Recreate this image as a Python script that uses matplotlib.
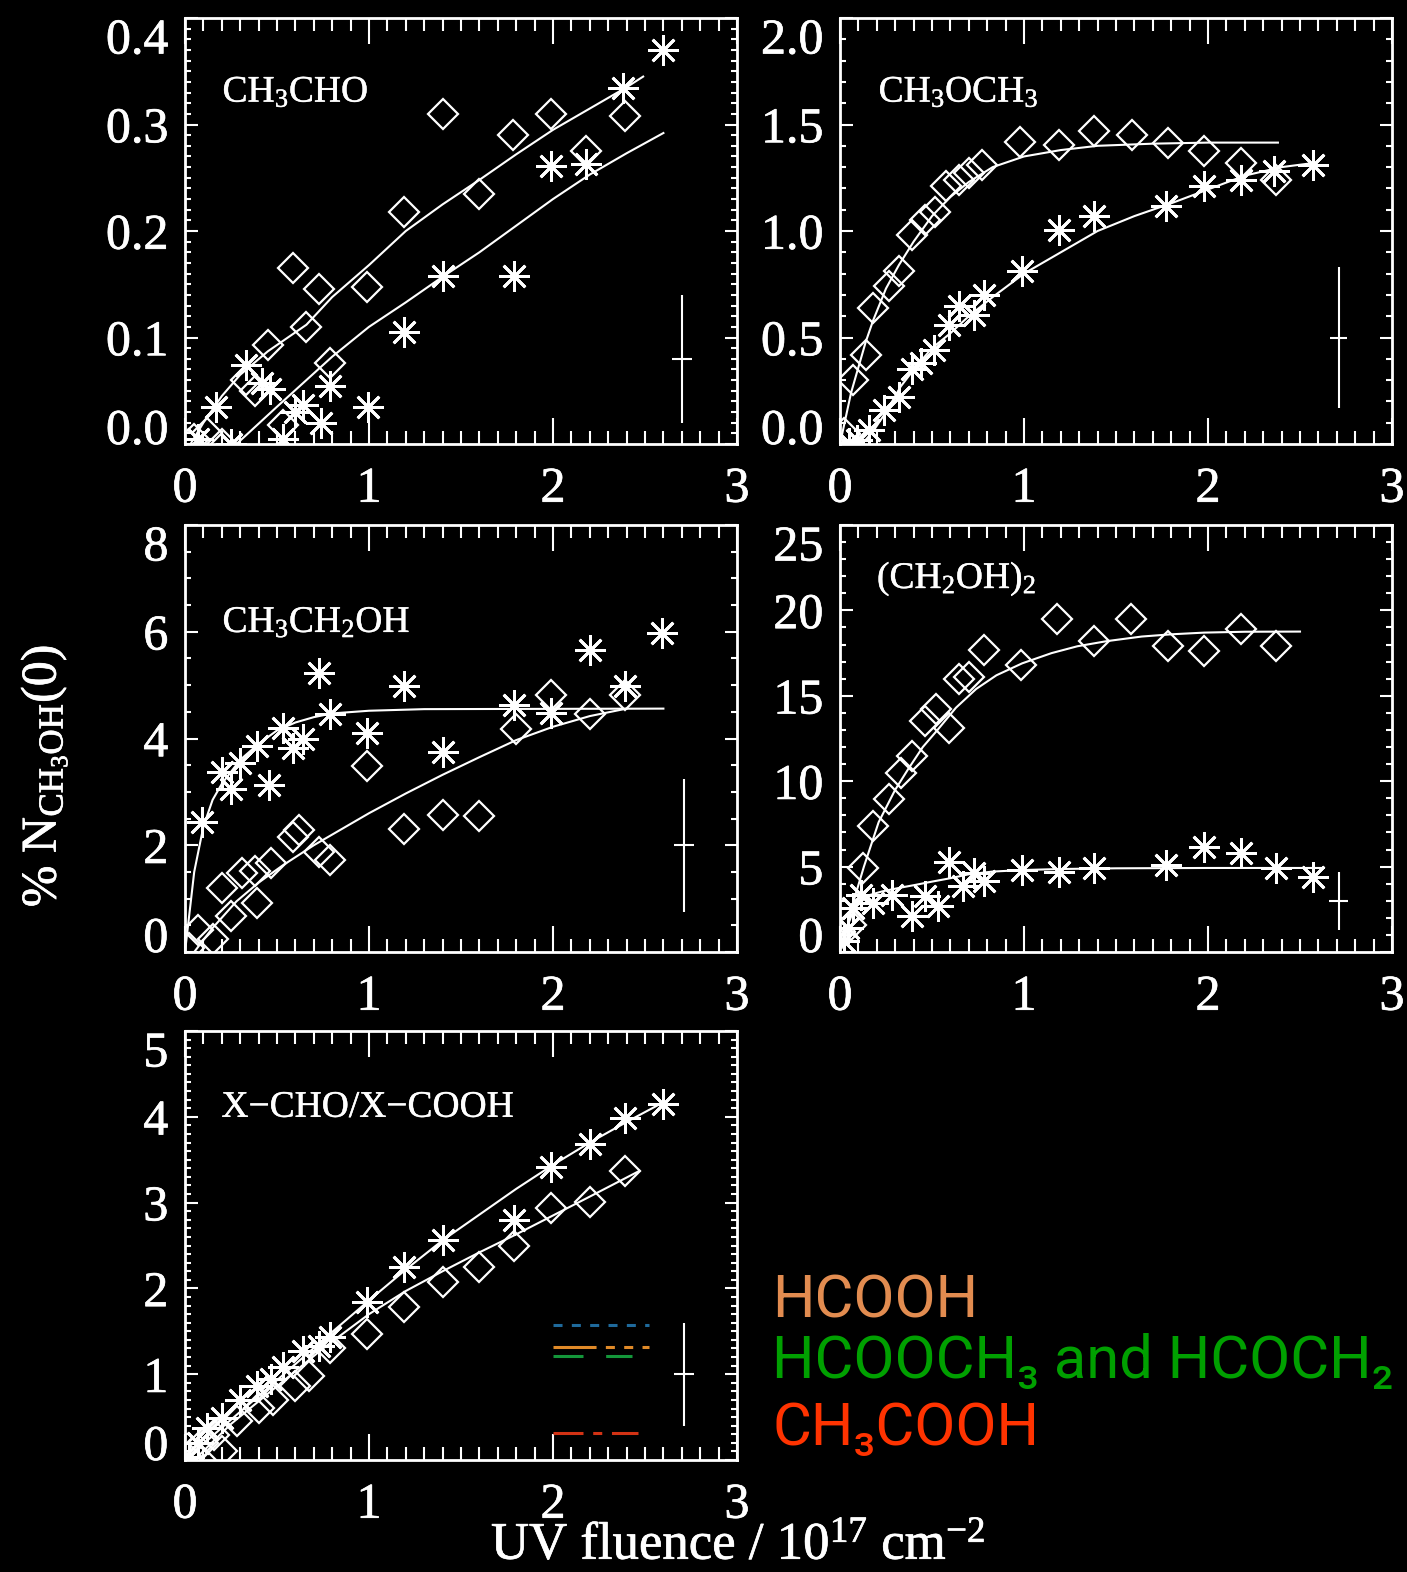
#!/usr/bin/env python3
"""Product growth vs UV fluence, five panels in IDL style on black."""

import matplotlib

matplotlib.use("Agg")
import matplotlib.patheffects as pe
import matplotlib.pyplot as plt
from matplotlib.ticker import FormatStrFormatter, MultipleLocator

# ---- CH3CHO (top left) ----
CHO_DIA_X = [1.40, 1.78, 1.99, 2.39, 2.18, 1.60, 1.19, 0.585, 0.727, 0.99, 0.66,
             0.45, 0.79, 0.33, 0.38, 0.53, 0.12, 0.05, 0.20]
CHO_DIA_Y = [0.31, 0.29, 0.31, 0.308, 0.275, 0.235, 0.218, 0.165, 0.146, 0.147,
             0.11, 0.093, 0.076, 0.06, 0.05, 0.018, 0.01, 0.005, 0.0]
CHO_AST_X = [2.60, 2.38, 1.99, 2.18, 1.40, 1.79, 1.19, 0.997, 0.33, 0.42, 0.46,
             0.17, 0.64, 0.60, 0.79, 0.74, 0.53, 0.07, 0.25]
CHO_AST_Y = [0.37, 0.334, 0.261, 0.263, 0.158, 0.158, 0.105, 0.035, 0.074, 0.057,
             0.052, 0.035, 0.037, 0.03, 0.054, 0.02, 0.005, 0.005, 0.0]
CHO_FIT1_X = [0.03, 0.1, 0.2, 0.3, 0.45, 0.66, 0.8, 1.0, 1.2, 1.4, 1.6, 1.8, 2.0,
              2.2, 2.4, 2.49]
CHO_FIT1_Y = [0.0, 0.02, 0.045, 0.065, 0.087, 0.112, 0.138, 0.168, 0.2, 0.225,
              0.248, 0.272, 0.295, 0.315, 0.335, 0.345]
CHO_FIT2_X = [0.28, 0.5, 0.8, 1.0, 1.2, 1.4, 1.6, 1.8, 2.0, 2.2, 2.4, 2.6]
CHO_FIT2_Y = [0.0, 0.035, 0.082, 0.11, 0.133, 0.157, 0.18, 0.205, 0.23, 0.253,
              0.273, 0.292]

# ---- CH3OCH3 (top right) ----
DME_DIA_X = [0.98, 1.19, 1.38, 1.585, 1.78, 1.977, 2.18, 2.37, 0.77, 0.70, 0.645,
             0.576, 0.518, 0.46, 0.39, 0.32, 0.265, 0.18, 0.14, 0.07, 0.02]
DME_DIA_Y = [1.416, 1.405, 1.468, 1.452, 1.413, 1.374, 1.319, 1.241, 1.311, 1.27,
             1.24, 1.21, 1.09, 1.05, 0.98, 0.81, 0.74, 0.64, 0.42, 0.30, 0.05]
DME_AST_X = [2.57, 2.36, 2.18, 1.977, 1.77, 1.38, 1.19, 0.99, 0.78, 0.73, 0.645,
             0.59, 0.51, 0.44, 0.39, 0.32, 0.24, 0.16, 0.09, 0.05]
DME_AST_Y = [1.31, 1.28, 1.24, 1.21, 1.116, 1.069, 1.006, 0.81, 0.70, 0.607, 0.646,
             0.56, 0.443, 0.38, 0.35, 0.22, 0.16, 0.067, 0.02, 0.005]
DME_FIT1_X = [0.0, 0.03, 0.06, 0.1, 0.14, 0.18, 0.25, 0.32, 0.4, 0.5, 0.6, 0.7,
              0.83, 1.0, 1.2, 1.4, 1.7, 2.0, 2.38]
DME_FIT1_Y = [0.0, 0.12, 0.24, 0.36, 0.48, 0.58, 0.73, 0.84, 0.95, 1.07, 1.16,
              1.23, 1.30, 1.35, 1.38, 1.40, 1.41, 1.415, 1.415]
DME_FIT2_X = [0.12, 0.18, 0.25, 0.33, 0.41, 0.5, 0.6, 0.7, 0.83, 1.0, 1.2, 1.4,
              1.6, 1.8, 2.0, 2.2, 2.4, 2.58]
DME_FIT2_Y = [0.0, 0.06, 0.15, 0.27, 0.36, 0.45, 0.52, 0.60, 0.69, 0.80, 0.90,
              1.00, 1.07, 1.13, 1.195, 1.26, 1.30, 1.32]

# ---- CH3CH2OH (middle left) ----
ETH_AST_X = [2.59, 2.20, 2.39, 1.79, 1.99, 1.19, 0.73, 0.79, 0.99, 1.40, 0.53,
             0.64, 0.585, 0.39, 0.30, 0.20, 0.25, 0.456, 0.095]
ETH_AST_Y = [5.98, 5.66, 4.99, 4.62, 4.48, 4.98, 5.23, 4.45, 4.10, 3.75, 4.20,
             3.99, 3.83, 3.86, 3.55, 3.37, 3.06, 3.12, 2.44]
ETH_DIA_X = [1.99, 2.39, 2.20, 1.80, 0.99, 1.19, 1.40, 1.60, 0.62, 0.585, 0.73,
             0.79, 0.47, 0.38, 0.31, 0.20, 0.39, 0.25, 0.07, 0.15, 0.02]
ETH_DIA_Y = [4.82, 4.82, 4.45, 4.17, 3.49, 2.30, 2.56, 2.55, 2.28, 2.16, 1.88,
             1.72, 1.66, 1.51, 1.48, 1.20, 0.92, 0.67, 0.42, 0.24, 0.08]
ETH_FIT1_X = [0.0, 0.02, 0.05, 0.1, 0.15, 0.2, 0.3, 0.4, 0.5, 0.6, 0.7, 0.8, 1.0,
              1.3, 2.6]
ETH_FIT1_Y = [0.0, 0.6, 1.5, 2.35, 2.85, 3.15, 3.6, 3.9, 4.15, 4.3, 4.4, 4.47,
              4.52, 4.55, 4.56]
ETH_FIT2_X = [0.05, 0.15, 0.28, 0.4, 0.53, 0.7, 0.85, 1.0, 1.2, 1.4, 1.6, 1.8,
              2.0, 2.2, 2.4]
ETH_FIT2_Y = [0.0, 0.45, 0.95, 1.3, 1.62, 2.0, 2.3, 2.6, 2.97, 3.32, 3.65, 3.97,
              4.22, 4.42, 4.56]

# ---- (CH2OH)2 (middle right) ----
GLY_DIA_X = [1.18, 1.58, 2.18, 1.38, 1.78, 1.98, 2.37, 0.986, 0.78, 0.70, 0.645,
             0.59, 0.52, 0.46, 0.39, 0.33, 0.265, 0.18, 0.127, 0.06]
GLY_DIA_Y = [19.5, 19.5, 18.9, 18.2, 17.9, 17.6, 17.9, 16.8, 17.7, 16.1, 16.0,
             13.1, 14.2, 13.5, 11.5, 10.5, 8.97, 7.4, 4.9, 1.6]
GLY_AST_X = [1.98, 2.18, 1.77, 2.37, 2.57, 1.38, 1.19, 0.99, 0.78, 0.73, 0.59,
             0.67, 0.46, 0.53, 0.39, 0.28, 0.18, 0.115, 0.07, 0.046, 0.02]
GLY_AST_Y = [6.16, 5.78, 5.10, 4.90, 4.42, 4.90, 4.71, 4.81, 4.13, 4.61, 5.29,
             3.84, 3.26, 2.67, 2.09, 3.35, 2.87, 3.35, 2.58, 1.41, 0.64]
GLY_FIT1_X = [0.03, 0.08, 0.13, 0.21, 0.3, 0.37, 0.45, 0.53, 0.63, 0.74, 0.85,
              0.99, 1.15, 1.29, 1.45, 1.64, 1.8, 1.98, 2.2, 2.5]
GLY_FIT1_Y = [1.0, 3.2, 5.0, 7.6, 9.5, 10.7, 12.0, 13.0, 14.3, 15.4, 16.2, 16.9,
              17.5, 17.9, 18.2, 18.47, 18.6, 18.7, 18.75, 18.76]
GLY_FIT2_X = [0.01, 0.04, 0.09, 0.15, 0.23, 0.32, 0.41, 0.5, 0.6, 0.7, 0.83, 1.0,
              1.2, 1.5, 2.0, 2.63]
GLY_FIT2_Y = [0.25, 1.5, 2.9, 3.3, 3.55, 3.75, 3.93, 4.12, 4.32, 4.55, 4.71, 4.8,
              4.86, 4.9, 4.92, 4.92]

# ---- X-CHO / X-COOH (bottom left) ----
ACD_AST_X = [2.60, 2.39, 2.20, 1.99, 1.79, 1.40, 1.19, 0.99, 0.79, 0.73, 0.64,
             0.53, 0.47, 0.39, 0.30, 0.20, 0.12, 0.07, 0.02]
ACD_AST_Y = [4.15, 3.99, 3.68, 3.42, 2.80, 2.56, 2.25, 1.84, 1.43, 1.33, 1.27,
             1.08, 0.94, 0.86, 0.70, 0.49, 0.37, 0.20, 0.04]
ACD_DIA_X = [2.39, 2.20, 1.99, 1.79, 1.60, 1.40, 1.19, 0.99, 0.79, 0.675, 0.60,
             0.48, 0.40, 0.28, 0.16, 0.10, 0.04, 0.20]
ACD_DIA_Y = [3.37, 3.01, 2.94, 2.49, 2.25, 2.07, 1.78, 1.47, 1.31, 0.98, 0.86,
             0.70, 0.61, 0.45, 0.29, 0.20, 0.08, 0.10]
ACD_FIT1_X = [0.0, 0.25, 0.5, 0.75, 1.0, 1.2, 1.4, 1.6, 1.8, 2.0, 2.2, 2.4, 2.6]
ACD_FIT1_Y = [0.0, 0.47, 0.93, 1.4, 1.86, 2.22, 2.56, 2.86, 3.16, 3.44, 3.7, 3.94,
              4.17]
ACD_FIT2_X = [0.05, 0.25, 0.5, 0.75, 1.0, 1.2, 1.4, 1.6, 1.8, 2.0, 2.2, 2.47]
ACD_FIT2_Y = [0.0, 0.42, 0.86, 1.3, 1.7, 1.97, 2.2, 2.42, 2.63, 2.85, 3.07, 3.37]

# coloured line samples in the bottom-left panel
SAMPLE_X = [[2.0, 2.52], [2.0, 2.52], [2.0, 2.43], [2.0, 2.46]]
SAMPLE_Y = [1.57, 1.32, 1.21, 0.31]
SAMPLE_COLORS = ["#1f6a9c", "#e08a28", "#14963a", "#d23214"]
SAMPLE_DASHES = [(6.5, 6.7), (31, 6.7, 6.5, 6.7, 6.5, 6.7, 6.5, 6.7),
                 (21.6, 16.3), (21.6, 7, 6.5, 7)]

# typical error cross per panel
ERR_X = [2.70, 2.71, 2.71, 2.71, 2.71]
ERR_Y = [0.08, 0.50, 2.0, 3.0, 1.0]
ERR_DX = [0.055, 0.045, 0.055, 0.05, 0.055]
ERR_DY = [0.06, 0.33, 1.25, 1.7, 0.6]

LABELS = [r"CH$_\mathrm{3}$CHO", r"CH$_\mathrm{3}$OCH$_\mathrm{3}$",
          r"CH$_\mathrm{3}$CH$_\mathrm{2}$OH", r"(CH$_\mathrm{2}$OH)$_\mathrm{2}$",
          "X\u2212CHO/X\u2212COOH"]
LABEL_POS = [(0.068, 0.803), (0.070, 0.803), (0.068, 0.749), (0.067, 0.852),
             (0.066, 0.80)]

LEGEND_TEXT = ["HCOOH", "HCOOCH\u2083 and HCOCH\u2082", "CH\u2083COOH"]
LEGEND_COLORS = ["#e28c50", "#00a000", "#ff3300"]
LEGEND_BASE = [1317, 1378, 1445]

plt.rcParams.update({
    "font.family": ["Liberation Serif", "DejaVu Serif"],
    "font.weight": "normal",
    "mathtext.fontset": "custom",
    "mathtext.rm": "Liberation Serif",
    "mathtext.it": "Liberation Serif:italic",
    "mathtext.bf": "Liberation Serif:bold",
    "lines.scale_dashes": False,
    "axes.linewidth": 2.0,
})

# IDL vector fonts look a bit heavier than Times regular
THICK = [pe.withStroke(linewidth=0.5, foreground="white")]
THIN = [pe.withStroke(linewidth=0.3, foreground="white")]

W, H = 1407, 1572
fig = plt.figure(figsize=(W / 100, H / 100), dpi=100, facecolor="black")


def rect(x0, x1, y0, y1):
    """Pixel box (left, right, top, bottom) -> figure fraction rect."""
    return [x0 / W, 1 - y1 / H, (x1 - x0) / W, (y1 - y0) / H]


panels = [
    dict(rect=rect(185, 737, 18, 444), ylim=0.4, major=0.1, minor=0.01, fmt="%.1f",
         dia=(CHO_DIA_X, CHO_DIA_Y), ast=(CHO_AST_X, CHO_AST_Y),
         fits=[(CHO_FIT1_X, CHO_FIT1_Y), (CHO_FIT2_X, CHO_FIT2_Y)]),
    dict(rect=rect(840, 1392, 18, 444), ylim=2.0, major=0.5, minor=0.1, fmt="%.1f",
         dia=(DME_DIA_X, DME_DIA_Y), ast=(DME_AST_X, DME_AST_Y),
         fits=[(DME_FIT1_X, DME_FIT1_Y), (DME_FIT2_X, DME_FIT2_Y)]),
    dict(rect=rect(185, 737, 525, 952), ylim=8, major=2, minor=0.5, fmt="%d",
         dia=(ETH_DIA_X, ETH_DIA_Y), ast=(ETH_AST_X, ETH_AST_Y),
         fits=[(ETH_FIT1_X, ETH_FIT1_Y), (ETH_FIT2_X, ETH_FIT2_Y)]),
    dict(rect=rect(840, 1392, 525, 952), ylim=25, major=5, minor=1, fmt="%d",
         dia=(GLY_DIA_X, GLY_DIA_Y), ast=(GLY_AST_X, GLY_AST_Y),
         fits=[(GLY_FIT1_X, GLY_FIT1_Y), (GLY_FIT2_X, GLY_FIT2_Y)]),
    dict(rect=rect(185, 737, 1031, 1460), ylim=5, major=1, minor=0.1, fmt="%d",
         dia=(ACD_DIA_X, ACD_DIA_Y), ast=(ACD_AST_X, ACD_AST_Y),
         fits=[(ACD_FIT1_X, ACD_FIT1_Y), (ACD_FIT2_X, ACD_FIT2_Y)]),
]

axes = []
for i, p in enumerate(panels):
    ax = fig.add_axes(p["rect"], facecolor="black")
    axes.append(ax)
    for sp in ax.spines.values():
        sp.set_color("white")
    ax.set_xlim(0, 3)
    ax.set_ylim(0, p["ylim"])

    for fx, fy in p["fits"]:
        ax.plot(fx, fy, color="white", lw=1.5)
    ax.plot(*p["dia"], ls="none", marker="D", ms=15, mfc="none", mec="white",
            mew=1.6)
    ax.plot(*p["ast"], ls="none", marker=(8, 2, 0), ms=22, mec="white", mew=2.0)
    ax.errorbar([ERR_X[i]], [ERR_Y[i]], xerr=[ERR_DX[i]], yerr=[ERR_DY[i]],
                fmt="none", ecolor="white", elinewidth=1.5, capsize=0)

    ax.text(*LABEL_POS[i], LABELS[i], transform=ax.transAxes, color="white",
            fontsize=27, va="baseline", ha="left", path_effects=THIN)

    ax.xaxis.set_major_locator(MultipleLocator(1))
    ax.xaxis.set_minor_locator(MultipleLocator(0.1))
    ax.yaxis.set_major_locator(MultipleLocator(p["major"]))
    ax.yaxis.set_minor_locator(MultipleLocator(p["minor"]))
    ax.xaxis.set_major_formatter(FormatStrFormatter("%d"))
    ax.yaxis.set_major_formatter(FormatStrFormatter(p["fmt"]))
    ax.tick_params(which="both", direction="in", top=True, right=True,
                   colors="white", labelsize=36, width=1.5)
    ax.tick_params(axis="x", which="major", length=19, pad=16)
    ax.tick_params(axis="x", which="minor", length=9.5)
    ax.tick_params(axis="y", which="major", length=9, pad=12)
    ax.tick_params(axis="y", which="minor", length=4.5)

    # IDL nudges the end labels inward
    ticks = ax.yaxis.get_major_ticks()
    locs = ax.yaxis.get_majorticklocs()
    for t, v in zip(ticks, locs):
        if abs(v) < 1e-9:
            t.label1.set_va("baseline")
        elif abs(v - p["ylim"]) < 1e-9:
            t.label1.set_va("top")
    for t in ax.xaxis.get_major_ticks() + ticks:
        t.label1.set_path_effects(THICK)

# coloured line samples, bottom-left panel
ax = axes[4]
for sx, sy, c, d in zip(SAMPLE_X, SAMPLE_Y, SAMPLE_COLORS, SAMPLE_DASHES):
    ax.plot(sx, [sy, sy], color=c, lw=2.2, linestyle=(0, d))

fig.text(44 / W, 1 - 776 / H, r"% N$_\mathrm{CH_3OH}$(0)", rotation=90,
         color="white", fontsize=36, ha="center", va="center", path_effects=THICK)
fig.text(738 / W, 1 - 1570 / H, r"UV fluence / 10$^\mathrm{17}$ cm$^\mathrm{-2}$",
         color="white", fontsize=38, ha="center", va="bottom",
         path_effects=THICK)

for txt, col, base in zip(LEGEND_TEXT, LEGEND_COLORS, LEGEND_BASE):
    fig.text(772 / W, 1 - base / H, txt, color=col, fontsize=43,
             family=["Roboto", "DejaVu Sans"], ha="left", va="baseline")

fig.savefig("out.png", dpi=100, facecolor="black")
